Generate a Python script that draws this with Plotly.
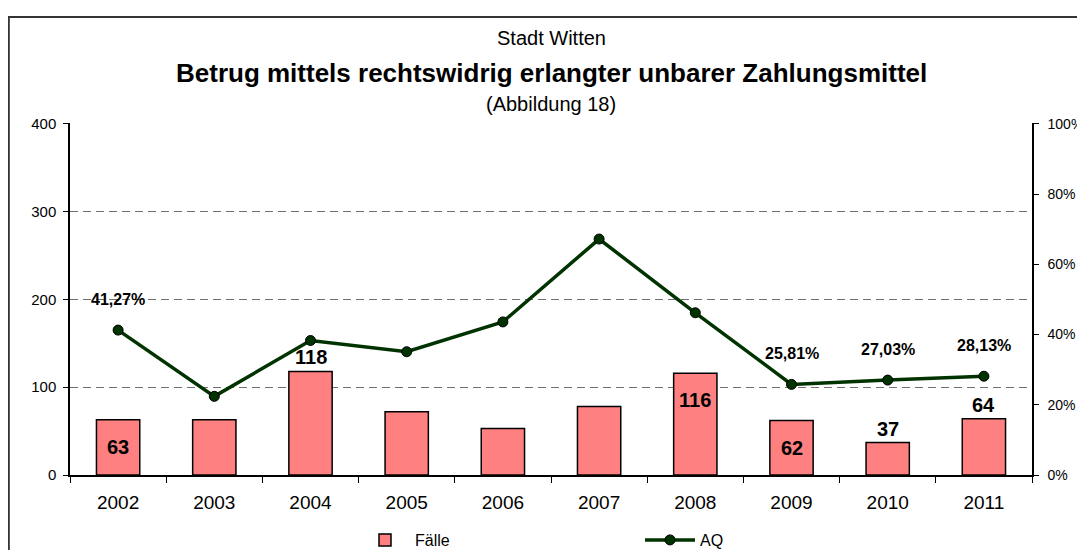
import plotly.graph_objects as go

years = ["2002", "2003", "2004", "2005", "2006", "2007", "2008", "2009", "2010", "2011"]
faelle = [63, 63, 118, 72, 53, 78, 116, 62, 37, 64]
aq = [41.27, 22.4, 38.3, 35.1, 43.6, 67.2, 46.2, 25.81, 27.03, 28.13]
# which bar labels are shown and where ("in" = inside near top, "out" = above bar)
bar_label_pos = ["in", None, "out", None, None, None, "in", "in", "out", "out"]
aq_label_shown = [True, False, False, False, False, False, False, True, True, True]

FONT = "Liberation Sans, Arial, sans-serif"
Y_MAX = 401  # slightly above 400 so the top dashed gridline is drawn

fig = go.Figure()
fig.add_trace(go.Bar(
    x=years, y=faelle, name="Fälle", width=0.45,
    marker=dict(color="#FF8080", line=dict(color="black", width=1.5)),
    yaxis="y",
))
fig.add_trace(go.Scatter(
    x=years, y=[v / 100 for v in aq], name="AQ", mode="lines+markers",
    line=dict(color="#003300", width=3.5),
    marker=dict(size=10, color="#003300", line=dict(color="black", width=1)),
    yaxis="y2",
))

annotations = []
for i, (v, pos) in enumerate(zip(faelle, bar_label_pos)):
    if pos is None:
        continue
    annotations.append(dict(
        x=i, y=v, xref="x", yref="y", text=f"<b>{v}</b>", showarrow=False,
        font=dict(family=FONT, size=20, color="black"),
        yanchor="top" if pos == "in" else "bottom",
        yshift=-14 if pos == "in" else 1,
    ))
for i, (v, shown) in enumerate(zip(aq, aq_label_shown)):
    if not shown:
        continue
    txt = f"{v:.2f}%".replace(".", ",")
    annotations.append(dict(
        x=i, y=v / 100, xref="x", yref="y2", text=f"<b>{txt}</b>", showarrow=False,
        font=dict(family=FONT, size=16, color="black"), yanchor="bottom", yshift=20,
    ))

annotations += [
    dict(x=0.5, y=1.2415, xref="paper", yref="paper", text="Stadt Witten", showarrow=False,
         font=dict(family=FONT, size=20, color="black"), yanchor="middle"),
    dict(x=0.5, y=1.142, xref="paper", yref="paper",
         text="<b>Betrug mittels rechtswidrig erlangter unbarer Zahlungsmittel</b>", showarrow=False,
         font=dict(family=FONT, size=26, color="black"), yanchor="middle"),
    dict(x=0.5, y=1.054, xref="paper", yref="paper", text="(Abbildung 18)", showarrow=False,
         font=dict(family=FONT, size=20, color="black"), yanchor="middle"),
]

fig.update_layout(
    width=1085, height=550,
    margin=dict(l=62, r=61, t=115, b=83),
    paper_bgcolor="white", plot_bgcolor="white",
    font=dict(family=FONT, color="black"),
    showlegend=True,
    legend=dict(orientation="h", xref="container", yref="container",
                x=347 / 1085, y=18 / 550, xanchor="left", yanchor="middle",
                entrywidth=220, itemwidth=50,
                font=dict(family=FONT, size=16, color="black"),
                bgcolor="rgba(0,0,0,0)"),
    xaxis=dict(type="category", range=[-0.5, len(years) - 0.5], automargin=False,
               showline=True, linecolor="black", linewidth=1.5,
               ticks="outside", ticklen=6, tickangle=0, ticklabelstandoff=9,
               tickcolor="black", tickson="boundaries", tickfont=dict(size=19, family=FONT),
               showgrid=False),
    yaxis=dict(range=[0, Y_MAX], tickvals=[0, 100, 200, 300, 400], showline=True,
               linecolor="black", linewidth=1.5, automargin=False,
               ticks="outside", ticklen=5, tickcolor="black", ticklabelstandoff=4,
               tickfont=dict(size=15, family=FONT),
               showgrid=True, gridcolor="#707070", griddash="8px,5px", gridwidth=1,
               zeroline=False),
    yaxis2=dict(range=[0, Y_MAX / 400], tickvals=[0, 0.2, 0.4, 0.6, 0.8, 1.0],
                tickformat=".0%", overlaying="y", side="right", automargin=False,
                showline=True, linecolor="black", linewidth=1.5, ticks="outside", ticklen=5,
                ticklabelstandoff=6,
                tickcolor="black", tickfont=dict(size=14, family=FONT), showgrid=False,
                zeroline=False),
    bargap=0.55,
    annotations=annotations,
    shapes=[dict(type="rect", xref="paper", yref="paper",
                 x0=(0.8 - 62) / 962, x1=(1072 - 62) / 962,
                 y0=(467 - 600) / 352, y1=(467 - 9) / 352,
                 line=dict(color="#333333", width=2), fillcolor="rgba(0,0,0,0)")],
)

fig.write_html("out.html")
